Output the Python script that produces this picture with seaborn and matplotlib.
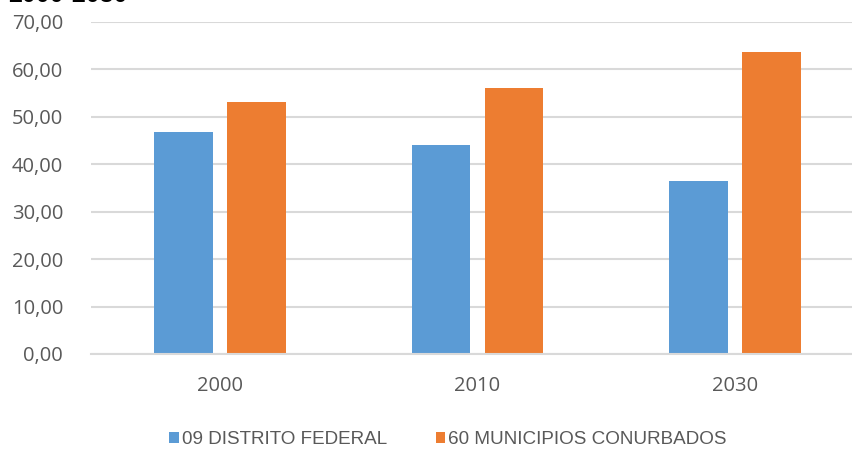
import matplotlib
matplotlib.use("Agg")
import matplotlib.pyplot as plt
import matplotlib.ticker as mticker
from matplotlib.patches import Patch
import seaborn as sns
import pandas as pd

# data
years = ["2000", "2010", "2030"]
series = ["09 DISTRITO FEDERAL", "60 MUNICIPIOS CONURBADOS"]
distrito = [46.9, 44.0, 36.4]
municipios = [53.1, 56.0, 63.6]
colors = ["#5B9BD5", "#ED7D31"]

df = pd.DataFrame({
    "year": years * 2,
    "serie": [series[0]] * 3 + [series[1]] * 3,
    "value": distrito + municipios,
})

sns.set_style("white")
plt.rcParams["font.family"] = ["Open Sans", "DejaVu Sans"]

fig = plt.figure(figsize=(8.53, 4.49), dpi=100)
W, H = 853, 449
# axes: left 91px, right 864px (cut by figure edge), top 22px, bottom 354px
ax = fig.add_axes([91 / W, 1 - 354 / H, (864 - 91) / W, (354 - 22) / H])

sns.barplot(data=df, x="year", y="value", hue="serie", palette=colors,
            width=0.567, gap=0.2, ax=ax, legend=False, saturation=1,
            edgecolor="none")

ax.set_ylim(0, 70)
ax.set_xlim(-0.5, 2.5)
ax.set_yticks(range(0, 71, 10))
ax.yaxis.set_major_formatter(mticker.FuncFormatter(lambda v, p: f"{v:.2f}".replace(".", ",")))
ax.grid(axis="y", color="#d9d9d9", linewidth=1.5)
ax.set_axisbelow(True)
for s in ["top", "right", "left"]:
    ax.spines[s].set_visible(False)
ax.spines["bottom"].set_color("#d9d9d9")
ax.spines["bottom"].set_linewidth(1.5)
ax.tick_params(axis="both", length=0, labelsize=14.5, colors="#595959")
ax.tick_params(axis="y", pad=20)
ax.tick_params(axis="x", pad=16)
ax.set_xlabel("")
ax.set_ylabel("")

handles = [Patch(facecolor=c, edgecolor="none") for c in colors]
fig.legend(handles, series, loc="center", bbox_to_anchor=(448 / W, 1 - 440 / H),
           ncol=2, frameon=False, handlelength=0.5, handleheight=0.5,
           handletextpad=0.15, columnspacing=2.6,
           prop={"family": "Liberation Sans", "size": 13.6}, labelcolor="#595959")

# title cut off at the top edge of the reference
fig.text(8 / W, 1 - 2 / H, "2000-2030", fontsize=18, fontweight="bold",
         family="Liberation Sans", va="baseline", ha="left", color="black")

fig.savefig("out.png", dpi=100)
